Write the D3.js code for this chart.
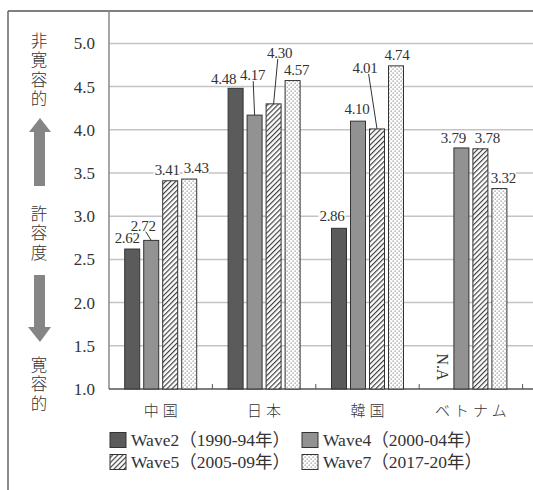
<!DOCTYPE html>
<html>
<head>
<meta charset="utf-8">
<script src="https://cdn.jsdelivr.net/npm/d3@7"></script>
<style>
  body { margin: 0; background: #fff; }
  svg { display: block; }
  .num { font-family: "Liberation Serif", "Noto Sans CJK JP", serif; fill: #333; }
  .jp { font-family: "Noto Sans CJK JP", sans-serif; font-weight: 300; fill: #333; }
</style>
</head>
<body>
<div id="chart"></div>
<script>
// data
var countries = ['中国', '日本', '韓国', 'ベトナム'];
var waves = ['Wave2（1990-94年）', 'Wave4（2000-04年）', 'Wave5（2005-09年）', 'Wave7（2017-20年）'];
var wave2 = [2.62, 4.48, 2.86, null];
var wave4 = [2.72, 4.17, 4.10, 3.79];
var wave5 = [3.41, 4.30, 4.01, 3.78];
var wave7 = [3.43, 4.57, 4.74, 3.32];
var yTicks = [1.0, 1.5, 2.0, 2.5, 3.0, 3.5, 4.0, 4.5, 5.0];
var topText = '非寛容的';
var midText = '許容度';
var bottomText = '寛容的';
var naText = 'N.A';

// label nudges [dx, dy of text centre from bar top, leader line?]  (layout only)
var labelNudge = [
    [[-5, -11, 0], [-8, -15, 1], [-3, -11, 0], [7, -11, 0]],
    [[-12, -10, 0], [-2, -40, 1], [6, -51, 1], [4, -11, 0]],
    [[-7, -13, 0], [-1, -12, 0], [-12, -61, 1], [1, -11, 0]],
    [[0, 0, 0], [-8, -10, 0], [7, -11, 0], [4, -11, 0]]
];

var W = 533, H = 490;
var svg = d3.select('#chart').append('svg').attr('width', W).attr('height', H);

// patterns
var defs = svg.append('defs');
var hatch = defs.append('pattern').attr('id', 'hatch')
    .attr('patternUnits', 'userSpaceOnUse').attr('width', 3.6).attr('height', 3.6)
    .attr('patternTransform', 'rotate(45)');
hatch.append('rect').attr('width', 3.6).attr('height', 3.6).attr('fill', '#fff');
hatch.append('line').attr('x1', 0.6).attr('y1', 0).attr('x2', 0.6).attr('y2', 3.6)
    .attr('stroke', '#333').attr('stroke-width', 1.1);
var dots = defs.append('pattern').attr('id', 'dots')
    .attr('patternUnits', 'userSpaceOnUse').attr('width', 4).attr('height', 4);
dots.append('rect').attr('width', 4).attr('height', 4).attr('fill', '#fff');
dots.append('rect').attr('x', 0.5).attr('y', 0.5).attr('width', 1.3).attr('height', 1.3).attr('fill', '#999');
dots.append('rect').attr('x', 2.5).attr('y', 2.5).attr('width', 1.3).attr('height', 1.3).attr('fill', '#999');

var fills = ['#5b5b5b', '#929292', 'url(#hatch)', 'url(#dots)'];
var series = [wave2, wave4, wave5, wave7];

// scales
var y = d3.scaleLinear().domain([1, 5]).range([389, 43.4]);
var x = d3.scaleBand().domain(countries).range([109, 522.6]);
var xi = d3.scaleBand().domain(d3.range(4)).range([15.7, 87.7]).paddingInner(4 / 19);

// frame
svg.append('line').attr('x1', 8).attr('y1', 11).attr('x2', W).attr('y2', 11)
    .attr('stroke', '#555').attr('stroke-width', 1.5);
svg.append('line').attr('x1', 8).attr('y1', 11).attr('x2', 8).attr('y2', H)
    .attr('stroke', '#666').attr('stroke-width', 1.5);

// gridlines
svg.append('g').selectAll('line').data(yTicks.slice(1)).enter().append('line')
    .attr('x1', 109).attr('x2', W)
    .attr('y1', function (d) { return y(d); }).attr('y2', function (d) { return y(d); })
    .attr('stroke', '#c4c4c4').attr('stroke-width', 1.5);

// y axis
var yAxis = svg.append('g').attr('transform', 'translate(109,0)')
    .call(d3.axisLeft(y).tickValues(yTicks).tickFormat(d3.format('.1f')).tickSize(0).tickPadding(14));
yAxis.select('.domain').remove();
yAxis.selectAll('text').attr('class', 'num').style('font-size', '17px').attr('fill', '#333');
svg.append('line').attr('x1', 109).attr('x2', 109).attr('y1', 11).attr('y2', 389)
    .attr('stroke', '#888').attr('stroke-width', 1.5);

// x axis
var xAxis = svg.append('g').attr('transform', 'translate(0,389)')
    .call(d3.axisBottom(x).tickSize(0).tickPadding(14));
xAxis.select('.domain').remove();
xAxis.selectAll('text').attr('class', 'jp').style('font-size', '15px')
    .style('letter-spacing', '4px').attr('dx', 2).attr('dy', '0.85em').attr('fill', '#333');
svg.append('line').attr('x1', 109).attr('x2', W).attr('y1', 389).attr('y2', 389)
    .attr('stroke', '#555').attr('stroke-width', 1.3);
svg.append('g').selectAll('line').data(countries).enter().append('line')
    .attr('x1', function (d) { return x(d) + x.bandwidth(); })
    .attr('x2', function (d) { return x(d) + x.bandwidth(); })
    .attr('y1', 384).attr('y2', 389).attr('stroke', '#555').attr('stroke-width', 1);

// bars
var cells = [];
countries.forEach(function (c, ci) {
    series.forEach(function (s, si) {
        cells.push({ c: c, ci: ci, si: si, v: s[ci] });
    });
});
svg.append('g').selectAll('rect').data(cells.filter(function (d) { return d.v != null; }))
    .enter().append('rect')
    .attr('x', function (d) { return x(d.c) + xi(d.si); })
    .attr('width', xi.bandwidth())
    .attr('y', function (d) { return y(d.v); })
    .attr('height', function (d) { return y(1) - y(d.v); })
    .attr('fill', function (d) { return fills[d.si]; })
    .attr('stroke', '#333').attr('stroke-width', 1);

// value labels
var lab = svg.append('g');
cells.forEach(function (d) {
    var bx = x(d.c) + xi(d.si) + xi.bandwidth() / 2;
    if (d.v == null) {
        lab.append('text').attr('class', 'num')
            .attr('transform', 'translate(' + bx + ',' + 367 + ') rotate(90)')
            .attr('text-anchor', 'middle').attr('dy', '0.35em')
            .style('font-size', '16px').text(naText);
        return;
    }
    var n = labelNudge[d.ci][d.si];
    var top = y(d.v);
    var lx = bx + n[0], ly = top + n[1];
    if (n[2]) {
        lab.append('line').attr('x1', lx + (bx - lx) * 0.3).attr('y1', ly + 6)
            .attr('x2', bx).attr('y2', top).attr('stroke', '#333').attr('stroke-width', 1);
    }
    var bg = lab.append('rect').attr('fill', '#fff');
    var t = lab.append('text').attr('class', 'num').attr('x', lx).attr('y', ly)
        .attr('text-anchor', 'middle').attr('dy', '0.35em')
        .style('font-size', '15px').style('letter-spacing', '-0.3px').text(d.v.toFixed(2));
    var bb = t.node().getBBox();
    bg.attr('x', bb.x - 1).attr('y', ly - 6).attr('width', bb.width + 1).attr('height', 12);
});

// left annotation (vertical writing)
function vtext(str, cx, y0) {
    svg.append('text').attr('class', 'jp').attr('x', cx).attr('y', y0)
        .style('writing-mode', 'vertical-rl').style('text-orientation', 'upright')
        .style('font-size', '16.5px').style('letter-spacing', '3px')
        .text(str);
}
vtext(topText, 39, 32);
vtext(midText, 39, 205);
vtext(bottomText, 39, 356);

svg.append('path').attr('fill', '#858585')
    .attr('d', 'M40,118 L51,132 L45,132 L45,186 L34,186 L34,132 L29,132 Z');
svg.append('path').attr('fill', '#858585')
    .attr('d', 'M34,275 L45,275 L45,327 L51,327 L40,342 L28,327 L34,327 Z');

// legend
var legPos = [[110, 440], [302, 440], [110, 462], [302, 462]];
var leg = svg.append('g').selectAll('g').data(waves).enter().append('g')
    .attr('transform', function (d, i) { return 'translate(' + legPos[i][0] + ',' + legPos[i][1] + ')'; });
leg.append('rect').attr('x', 0).attr('y', -7.5).attr('width', 16).attr('height', 15)
    .attr('fill', function (d, i) { return fills[i]; }).attr('stroke', '#333').attr('stroke-width', 1);
leg.append('text').attr('class', 'num').attr('x', 21).attr('dy', '0.35em')
    .style('font-size', '17.5px').text(function (d) { return d; });
</script>
</body>
</html>
